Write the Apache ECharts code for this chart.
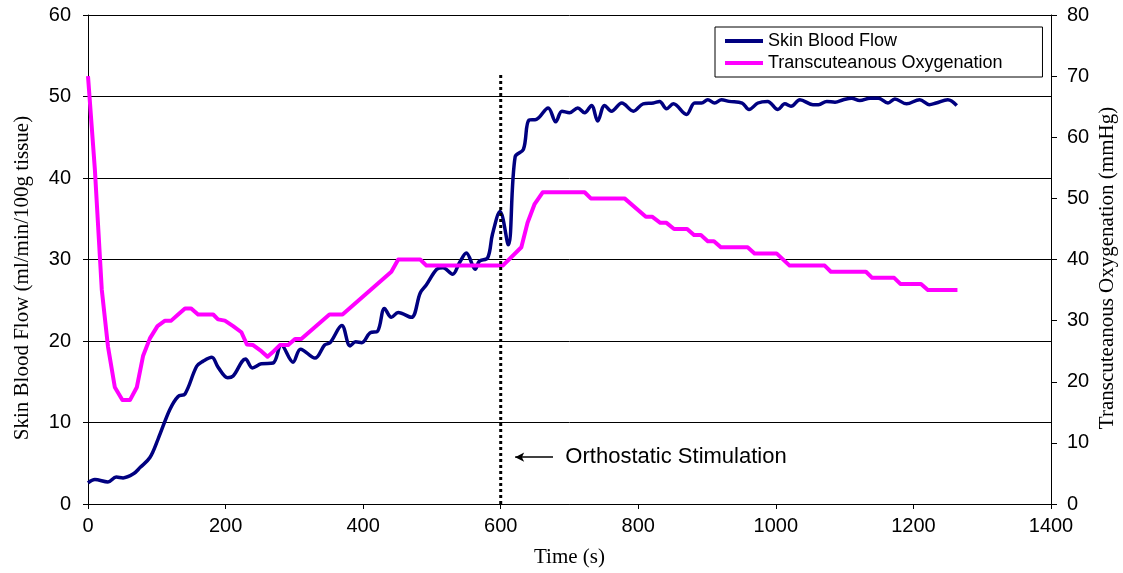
<!DOCTYPE html>
<html>
<head>
<meta charset="utf-8">
<script src="https://cdn.jsdelivr.net/npm/echarts@6/dist/echarts.min.js"></script>
<style>
  html, body { margin: 0; padding: 0; background: #fff; }
  #chart { width: 1123px; height: 573px; }
</style>
</head>
<body>
<div id="chart"></div>
<script>
// skin blood flow (left axis, ml/min/100g tissue)
const bloodT = [0, 10, 29, 41, 51, 66, 76, 90, 102, 119, 131, 141, 158, 167, 180, 189, 203, 211, 229, 239,
  252, 269, 281, 298, 309, 330, 344, 352, 369, 381, 389, 398, 410, 421, 431, 441, 451, 470, 483, 492,
  507, 516, 530, 540, 550, 563, 569, 581, 588, 599, 611, 621, 633, 641, 652, 669, 680, 689, 700, 712,
  722, 732, 741, 751, 761, 776, 793, 807, 822, 831, 841, 851, 870, 882, 892, 901, 911, 921, 932, 951,
  961, 974, 988, 1003, 1013, 1022, 1035, 1054, 1062, 1074, 1086, 1098, 1110, 1122, 1137, 1149, 1163, 1173, 1190, 1209,
  1223, 1233, 1250, 1263];
const bloodV = [2.6, 3.0, 2.7, 3.3, 3.2, 3.7, 4.5, 5.7, 8.0, 11.6, 13.2, 13.5, 16.9, 17.5, 18.0, 16.8, 15.5, 15.7, 17.8, 16.7,
  17.2, 17.3, 19.5, 17.4, 19.0, 17.9, 19.5, 19.8, 21.9, 19.4, 19.9, 19.8, 21.0, 21.2, 24.0, 22.9, 23.5, 22.9, 25.9, 26.9,
  28.8, 29.0, 28.2, 29.6, 30.8, 28.8, 29.8, 30.2, 33.1, 35.9, 31.8, 42.6, 43.5, 47.1, 47.2, 48.6, 46.9, 48.2, 48.0, 48.6,
  48.0, 48.9, 47.0, 48.9, 48.2, 49.2, 48.2, 49.1, 49.2, 49.4, 48.5, 49.1, 47.8, 49.2, 49.2, 49.6, 49.2, 49.6, 49.4, 49.2,
  48.4, 49.2, 49.4, 48.4, 49.1, 48.8, 49.6, 49.0, 49.0, 49.4, 49.3, 49.6, 49.8, 49.5, 49.8, 49.8, 49.2, 49.7, 49.1, 49.6,
  49.0, 49.2, 49.6, 48.9];

// transcutaneous oxygenation (right axis, mmHg)
const oxyT = [0, 10, 20, 29, 39, 50, 61, 71, 80, 90, 101, 112, 121, 131, 141, 150, 160, 182, 189, 199,
  211, 223, 231, 240, 252, 261, 270, 279, 291, 301, 310, 351, 370, 441, 451, 483, 492, 603, 630, 639,
  649, 661, 722, 731, 780, 811, 820, 832, 841, 852, 871, 881, 891, 901, 910, 920, 959, 969, 1001, 1020,
  1071, 1080, 1131, 1140, 1172, 1181, 1211, 1221, 1264];
const oxyV = [70, 54.7, 35.1, 25.8, 19.1, 17, 17, 19.1, 24.2, 27.1, 29.1, 30, 30, 31, 32, 32, 31, 31, 30.2, 30,
  29.1, 28.1, 26.1, 26, 25, 24.1, 25, 26, 26, 27, 27, 31, 31, 38, 40, 40, 39, 39, 42, 46,
  49, 51, 51, 50, 50, 47, 47, 46, 46, 45, 45, 44, 44, 43, 43, 42, 42, 41, 41, 39,
  39, 38, 38, 37, 37, 36, 36, 35, 35];

// stimulation marker
const stimT = [600, 600];
const stimV = [0, 53];
const arrowT = [676, 621];
const arrowV = 5.75;
const noteT = 694;
const noteText = 'Orthostatic Stimulation';

const xTicks = { min: 0, max: 1400, interval: 200 };
const leftTicks = { min: 0, max: 60, interval: 10 };
const rightTicks = { min: 0, max: 80, interval: 10 };

const SANS = '"Liberation Sans", Arial, sans-serif';
const SERIF = '"Liberation Serif", "Times New Roman", serif';

const toPairs = (ts, vs) => ts.map((t, i) => [t, vs[i]]);

const chart = echarts.init(document.getElementById('chart'), null, { renderer: 'canvas' });

const option = {
  animation: false,
  backgroundColor: '#fff',
  grid: { left: 88, right: 72, top: 15, bottom: 68, containLabel: false },
  legend: {
    left: 715,
    top: 27,
    orient: 'vertical',
    data: ['Skin Blood Flow', 'Transcuteanous Oxygenation'],
    icon: 'rect',
    itemWidth: 38,
    itemHeight: 4,
    itemGap: 4,
    padding: [5, 40, 5, 10],
    borderColor: '#000',
    borderWidth: 1,
    borderRadius: 0,
    backgroundColor: '#fff',
    textStyle: { fontFamily: SANS, fontSize: 18, color: '#000' }
  },
  xAxis: {
    type: 'value',
    ...xTicks,
    name: 'Time (s)',
    nameLocation: 'middle',
    nameGap: 43,
    nameTextStyle: { fontFamily: SERIF, fontSize: 21, color: '#000' },
    axisLine: { lineStyle: { color: '#000', width: 1 } },
    axisTick: { show: true, length: 5, lineStyle: { color: '#000' } },
    axisLabel: {
      fontFamily: SANS, fontSize: 20, color: '#000', margin: 12,
      formatter: (v) => String(v)
    },
    splitLine: { show: false }
  },
  yAxis: [
    {
      type: 'value',
      ...leftTicks,
      position: 'left',
      axisLine: { show: true, lineStyle: { color: '#000', width: 1 } },
      axisTick: { show: true, length: 5, lineStyle: { color: '#000' } },
      axisLabel: { fontFamily: SANS, fontSize: 20, color: '#000', margin: 17 },
      splitLine: { show: true, lineStyle: { color: '#000', width: 1 } }
    },
    {
      type: 'value',
      ...rightTicks,
      position: 'right',
      axisLine: { show: true, lineStyle: { color: '#000', width: 1 } },
      axisTick: { show: true, length: 6, lineStyle: { color: '#000' } },
      axisLabel: { fontFamily: SANS, fontSize: 20, color: '#000', margin: 16 },
      splitLine: { show: false }
    }
  ],
  graphic: [
    {
      type: 'text',
      x: 22,
      y: 278,
      rotation: Math.PI / 2,
      style: {
        text: 'Skin Blood Flow (ml/min/100g tissue)',
        font: '21px ' + SERIF,
        fill: '#000',
        align: 'center',
        verticalAlign: 'middle'
      }
    },
    {
      type: 'text',
      x: 1107,
      y: 268,
      rotation: Math.PI / 2,
      style: {
        text: 'Transcuteanous Oxygenation (mmHg)',
        font: '21px ' + SERIF,
        fill: '#000',
        align: 'center',
        verticalAlign: 'middle'
      }
    }
  ],
  series: [
    {
      name: 'Skin Blood Flow',
      type: 'line',
      yAxisIndex: 0,
      data: toPairs(bloodT, bloodV),
      smooth: 0.35,
      showSymbol: false,
      symbol: 'none',
      lineStyle: { color: '#000080', width: 3.5 },
      itemStyle: { color: '#000080' },
      z: 3
    },
    {
      name: 'Transcuteanous Oxygenation',
      type: 'line',
      yAxisIndex: 1,
      data: toPairs(oxyT, oxyV),
      smooth: false,
      showSymbol: false,
      symbol: 'none',
      lineStyle: { color: '#FF00FF', width: 4, join: 'round' },
      itemStyle: { color: '#FF00FF' },
      z: 4
    },
    {
      name: 'stimulation',
      type: 'line',
      yAxisIndex: 0,
      data: toPairs(stimT, stimV),
      showSymbol: false,
      symbol: 'none',
      lineStyle: { color: '#000', width: 3, type: [3, 3], cap: 'butt' },
      silent: true,
      z: 5,
      markLine: {
        silent: true,
        symbol: ['none', 'arrow'],
        symbolSize: [7, 9],
        label: { show: false },
        lineStyle: { color: '#000', width: 1.5, type: 'solid' },
        data: [[
          { coord: [arrowT[0], arrowV] },
          { coord: [arrowT[1], arrowV] }
        ]]
      }
    },
    {
      name: 'note',
      type: 'scatter',
      yAxisIndex: 0,
      data: [[noteT, arrowV]],
      symbolSize: 0,
      silent: true,
      itemStyle: { color: '#000', opacity: 1 },
      label: {
        show: true,
        position: 'right',
        distance: 0,
        formatter: noteText,
        fontFamily: SANS,
        fontSize: 22,
        color: '#000',
        opacity: 1,
        textBorderWidth: 0
      }
    }
  ]
};

chart.setOption(option);
</script>
</body>
</html>
